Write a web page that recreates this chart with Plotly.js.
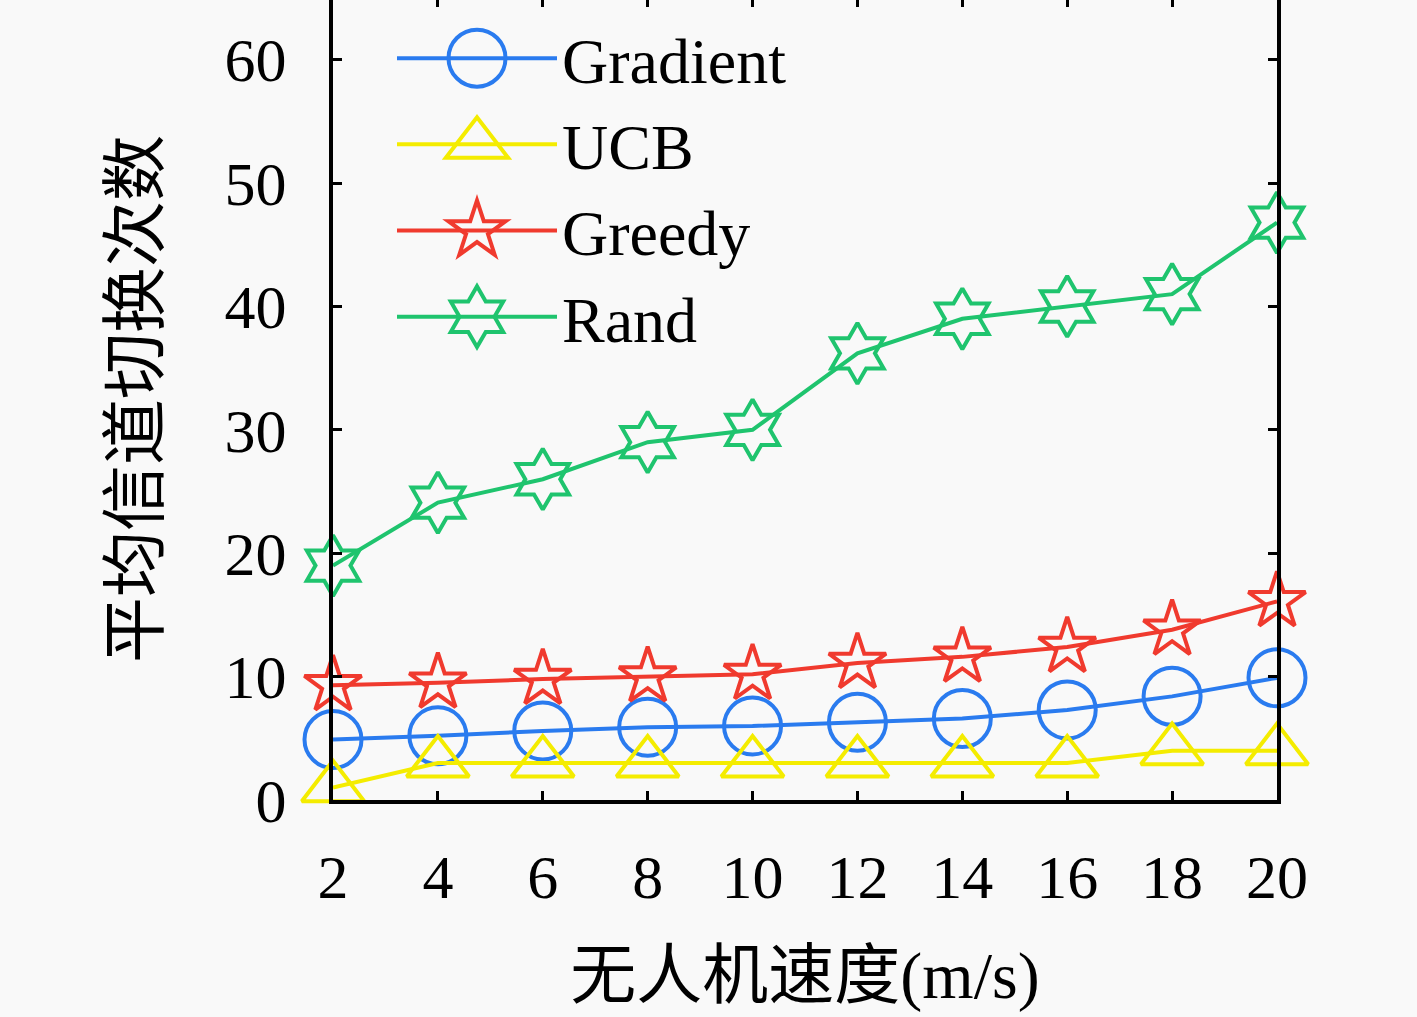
<!DOCTYPE html>
<html>
<head>
<meta charset="utf-8">
<script src="https://cdn.plot.ly/plotly-3.0.1.min.js"></script>
<style>
  html, body { margin: 0; padding: 0; background: #f9f9f9; overflow: hidden; }
  /* the top frame of the axes sits just above the window, as in the source figure */
  #chart { position: absolute; left: 0; top: -40px; width: 1417px; height: 1057px; }
</style>
</head>
<body>
<div id="chart"></div>
<script>
    // Values
    const speeds = [2, 4, 6, 8, 10, 12, 14, 16, 18, 20];
    const gradient = [4.9, 5.2, 5.6, 5.9, 6.0, 6.3, 6.6, 7.3, 8.4, 9.9];
    const ucb = [1.0, 3, 3, 3, 3, 3, 3, 3, 4, 4];
    const greedy = [9.3, 9.5, 9.8, 10.0, 10.2, 11.1, 11.6, 12.4, 13.8, 16.1];
    const rand = [19.0, 24.1, 26.0, 29.0, 30.0, 36.2, 39.0, 40.0, 41.0, 46.8];
    const yTicks = [0, 10, 20, 30, 40, 50, 60];

    const serif = "Liberation Serif, DejaVu Serif, serif";
    const cjk = "Noto Sans CJK SC, sans-serif";

    const series = [
        { name: "Gradient", y: gradient, color: "#2a7bef", symbol: "circle-open", size: 57 },
        { name: "UCB", y: ucb, color: "#f4ec00", symbol: "triangle-up-open", size: 54 },
        { name: "Greedy", y: greedy, color: "#f03a2e", symbol: "star-open", size: 43 },
        { name: "Rand", y: rand, color: "#1fc46e", symbol: "hexagram-open", size: 46 }
    ];

    const traces = series.map(s => ({
        type: "scatter",
        mode: "lines+markers",
        name: s.name,
        x: speeds,
        y: s.y,
        cliponaxis: false,
        line: { color: s.color, width: 4 },
        marker: {
            symbol: s.symbol,
            size: s.size,
            color: s.color,
            line: { color: s.color, width: 4 }
        },
        hoverinfo: "skip"
    }));

    const axisCommon = {
        showline: true,
        linecolor: "#000",
        linewidth: 4,
        mirror: "ticks",
        ticks: "inside",
        ticklen: 9,
        tickwidth: 3,
        tickcolor: "#000",
        showgrid: false,
        zeroline: false,
        tickfont: { family: serif, size: 62, color: "#000" }
    };

    const layout = {
        width: 1417,
        height: 1057,
        paper_bgcolor: "#f9f9f9",
        plot_bgcolor: "#f9f9f9",
        margin: { l: 333, r: 140, t: 38, b: 217 },
        showlegend: true,
        legend: {
            x: 0.0625,
            y: 0.985,
            xanchor: "left",
            yanchor: "top",
            bgcolor: "rgba(0,0,0,0)",
            borderwidth: 0,
            itemwidth: 160,
            font: { family: serif, size: 64, color: "#000" }
        },
        xaxis: Object.assign({}, axisCommon, {
            range: [2, 20],
            tickmode: "array",
            tickvals: speeds,
            ticktext: speeds.map(String),
            ticklabelstandoff: 20,
            title: {
                text: '无人机速度<span style="font-family:Liberation Serif">(m/s)</span>',
                font: { family: cjk, size: 66, color: "#000" },
                standoff: 46
            }
        }),
        yaxis: Object.assign({}, axisCommon, {
            range: [0, 65],
            tickmode: "array",
            tickvals: yTicks,
            ticktext: yTicks.map(String),
            ticklabelstandoff: 30,
            title: {
                text: "平均信道切换次数",
                font: { family: cjk, size: 66, color: "#000" },
                standoff: 45
            }
        })
    };

    Plotly.newPlot("chart", traces, layout, { displayModeBar: false, staticPlot: true }).then(gd => {
        // legend symbols are capped in size by plotly; blow them up to match the plot markers
        gd.querySelectorAll(".legend .traces").forEach((g, i) => {
            const pt = g.querySelector(".legendpoints path.scatterpts");
            if (!pt) return;
            const k = series[i].size / 16;
            pt.setAttribute("transform", (pt.getAttribute("transform") || "") + " scale(" + k + ")");
            pt.style.vectorEffect = "non-scaling-stroke";
        });
    });
</script>
</body>
</html>
